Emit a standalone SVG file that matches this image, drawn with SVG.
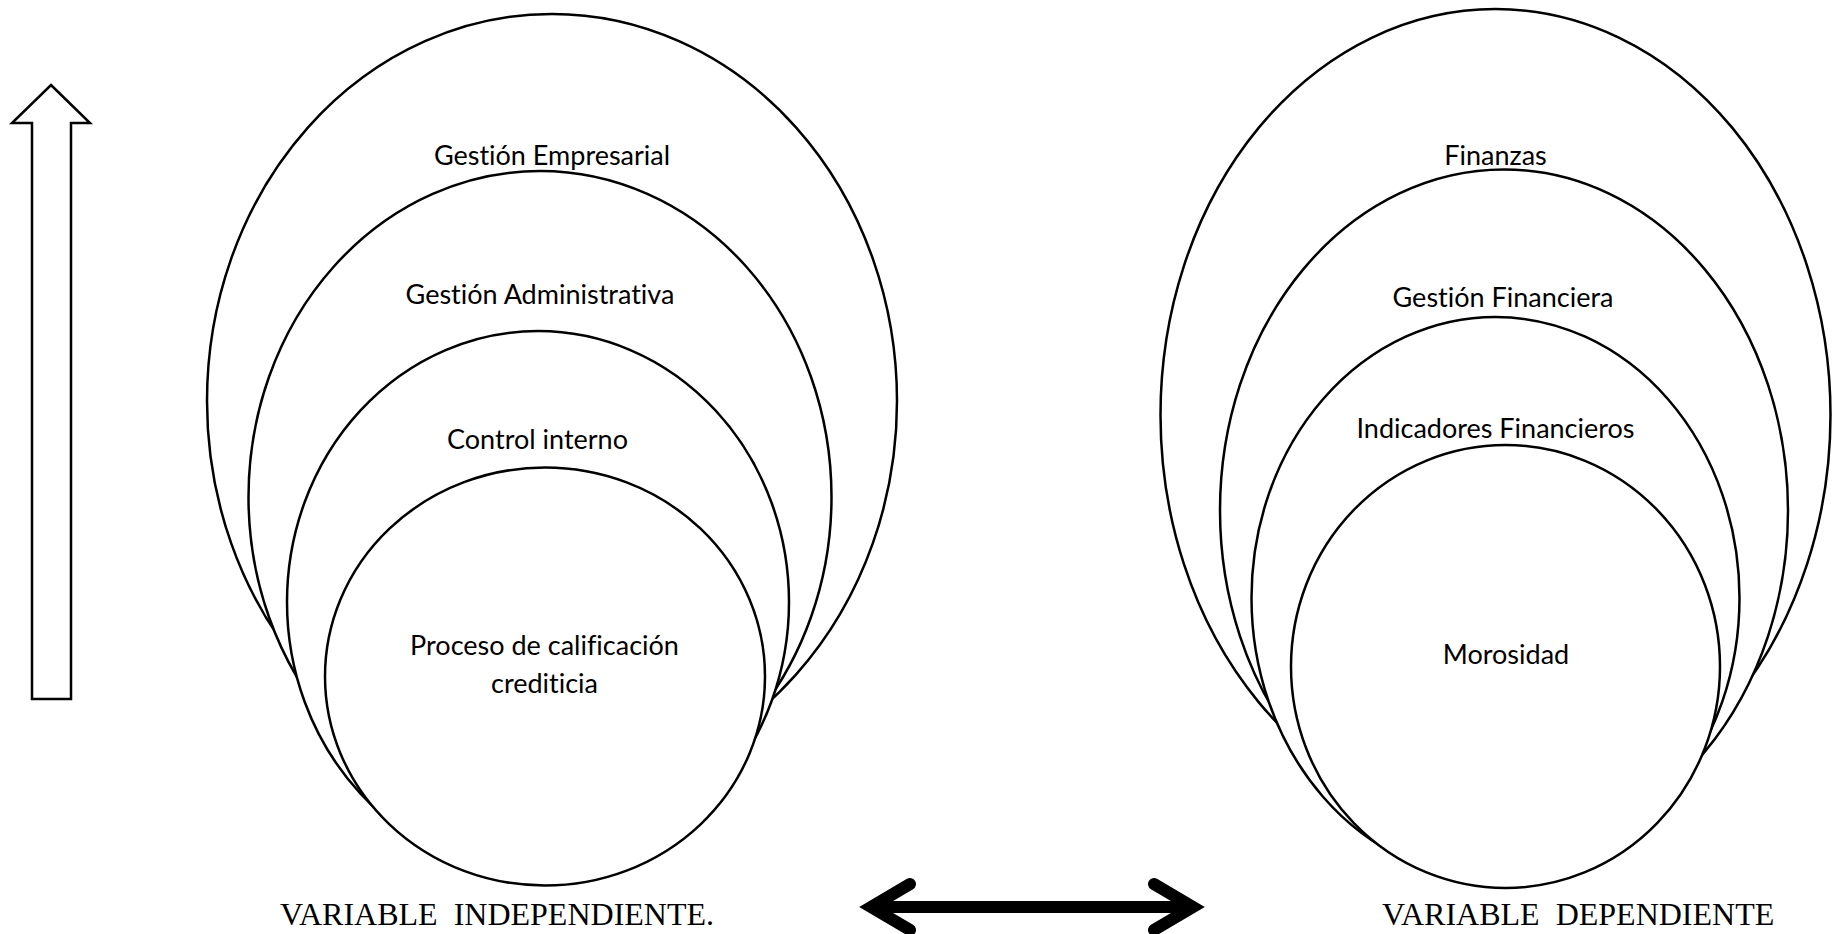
<svg xmlns="http://www.w3.org/2000/svg" width="1832" height="934" viewBox="0 0 1832 934">
<style>
.e{fill:#fff;stroke:#000;stroke-width:2.5}
.t{font-family:Lato,"Open Sans",sans-serif;font-size:27px;text-anchor:middle;fill:#000;font-variant-ligatures:none}
.v{font-family:"Liberation Serif","Times New Roman",serif;font-size:32px;fill:#000;white-space:pre}
</style>
<rect width="1832" height="934" fill="#fff"/>
<g id="up-arrow">
<path d="M51,85 L90,123 L71,123 L71,699 L32,699 L32,123 L12,123 Z" fill="#fff" stroke="#000" stroke-width="2.5" stroke-linejoin="miter"/>
</g>
<g id="gestion-empresarial">
<ellipse class="e" cx="552" cy="401" rx="345" ry="387"/>
<text class="t" x="552" y="165">Gestión Empresarial</text>
</g>
<g id="gestion-administrativa">
<ellipse class="e" cx="540" cy="497" rx="291.5" ry="326"/>
<text class="t" x="540" y="304">Gestión Administrativa</text>
</g>
<g id="control-interno">
<ellipse class="e" cx="538" cy="602" rx="251" ry="271"/>
<text class="t" x="537.5" y="449">Control interno</text>
</g>
<g id="proceso-calificacion">
<ellipse class="e" cx="545" cy="676.5" rx="220" ry="209"/>
<text class="t" x="544.5" y="655">Proceso de calificación</text>
<text class="t" x="544.5" y="693">crediticia</text>
</g>
<g id="finanzas">
<ellipse class="e" cx="1495.5" cy="415" rx="335" ry="406"/>
<text class="t" x="1495.5" y="165">Finanzas</text>
</g>
<g id="gestion-financiera">
<ellipse class="e" cx="1504" cy="510.5" rx="284" ry="341"/>
<text class="t" x="1503" y="307">Gestión Financiera</text>
</g>
<g id="indicadores-financieros">
<ellipse class="e" cx="1495.5" cy="598" rx="244" ry="281"/>
<text class="t" x="1495.5" y="438">Indicadores Financieros</text>
</g>
<g id="morosidad">
<ellipse class="e" cx="1505.5" cy="666.5" rx="214.5" ry="221.5"/>
<text class="t" x="1506" y="664">Morosidad</text>
</g>
<g id="connectors">
<path d="M872,907 L1192,907" stroke="#000" stroke-width="12" stroke-linecap="butt" fill="none"/>
<path d="M910,884 L871,907 L910,930" stroke="#000" stroke-width="12" stroke-linecap="round" stroke-linejoin="miter" fill="none"/>
<path d="M1154,884 L1193,907 L1154,930" stroke="#000" stroke-width="12" stroke-linecap="round" stroke-linejoin="miter" fill="none"/>
</g>
<g id="labels">
<text class="v" x="280" y="925">VARIABLE  INDEPENDIENTE.</text>
<text class="v" x="1382" y="925">VARIABLE  DEPENDIENTE</text>
</g>
</svg>
